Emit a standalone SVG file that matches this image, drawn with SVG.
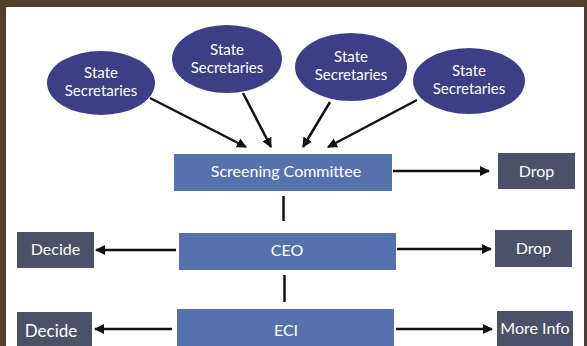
<svg xmlns="http://www.w3.org/2000/svg" width="587" height="346" viewBox="0 0 587 346">
<style>
.ell{fill:#3d3e85}
.main{fill:#5572ae}
.side{fill:#4c5069}
text{font-family:Lato,"Open Sans","Liberation Sans",sans-serif;fill:#ffffff;text-anchor:middle}
.t15{font-size:15px}
.t16{font-size:16px}
.t17{font-size:17px}
.c{stroke:#111111;stroke-width:2.5;fill:none}
</style>
<defs>
<marker id="ah" viewBox="0 0 10 10" refX="9" refY="5" markerWidth="4" markerHeight="4" orient="auto" markerUnits="strokeWidth">
<path d="M0,0 L10,5 L0,10 Z" fill="#111111"/>
</marker>
</defs>
<rect x="0" y="0" width="587" height="346" fill="#4f3e2c"/>
<rect x="6" y="7" width="578" height="339" fill="#ffffff"/>
<g id="connectors">
<line class="c" x1="150" y1="98" x2="246" y2="147" marker-end="url(#ah)"/>
<line class="c" x1="243" y1="93" x2="271" y2="147" marker-end="url(#ah)"/>
<line class="c" x1="330" y1="102" x2="303" y2="147" marker-end="url(#ah)"/>
<line class="c" x1="417" y1="100" x2="328" y2="147" marker-end="url(#ah)"/>
<line class="c" x1="393" y1="171" x2="489" y2="171" marker-end="url(#ah)"/>
<line class="c" x1="283.5" y1="196" x2="283.5" y2="221"/>
<line class="c" x1="176" y1="250" x2="96" y2="250" marker-end="url(#ah)"/>
<line class="c" x1="397" y1="249" x2="491" y2="249" marker-end="url(#ah)"/>
<line class="c" x1="284.5" y1="275" x2="284.5" y2="302"/>
<line class="c" x1="172" y1="329" x2="95" y2="329" marker-end="url(#ah)"/>
<line class="c" x1="396" y1="329" x2="492" y2="329" marker-end="url(#ah)"/>
</g>
<g id="ss1"><ellipse class="ell" cx="101" cy="83" rx="54" ry="32"/><text class="t15" x="101" y="78">State</text><text class="t15" x="101" y="96">Secretaries</text></g>
<g id="ss2"><ellipse class="ell" cx="227" cy="59" rx="55" ry="34"/><text class="t15" x="227" y="55">State</text><text class="t15" x="227" y="73">Secretaries</text></g>
<g id="ss3"><ellipse class="ell" cx="351" cy="67" rx="56" ry="34"/><text class="t15" x="351" y="62">State</text><text class="t15" x="351" y="80">Secretaries</text></g>
<g id="ss4"><ellipse class="ell" cx="469" cy="81" rx="56" ry="33"/><text class="t15" x="469" y="76">State</text><text class="t15" x="469" y="94">Secretaries</text></g>
<g id="screening"><rect class="main" x="174" y="154" width="218" height="37"/><text class="t16" x="286" y="177">Screening Committee</text></g>
<g id="drop1"><rect class="side" x="498" y="153" width="77" height="36"/><text class="t16" x="536.5" y="177">Drop</text></g>
<g id="ceo"><rect class="main" x="179" y="233" width="217" height="37"/><text class="t16" x="287" y="256">CEO</text></g>
<g id="decide1"><rect class="side" x="17" y="232" width="77" height="36"/><text class="t16" x="55.5" y="255">Decide</text></g>
<g id="drop2"><rect class="side" x="495" y="230" width="77" height="37"/><text class="t16" x="533.5" y="254">Drop</text></g>
<g id="eci"><rect class="main" x="177" y="309" width="217" height="40"/><text class="t16" x="286" y="336">ECI</text></g>
<g id="decide2"><rect class="side" x="17" y="312" width="75" height="37"/><text class="t17" x="51" y="337">Decide</text></g>
<g id="moreinfo"><rect class="side" x="497" y="311" width="76" height="38"/><text class="t16" x="535" y="334">More Info</text></g>
</svg>
